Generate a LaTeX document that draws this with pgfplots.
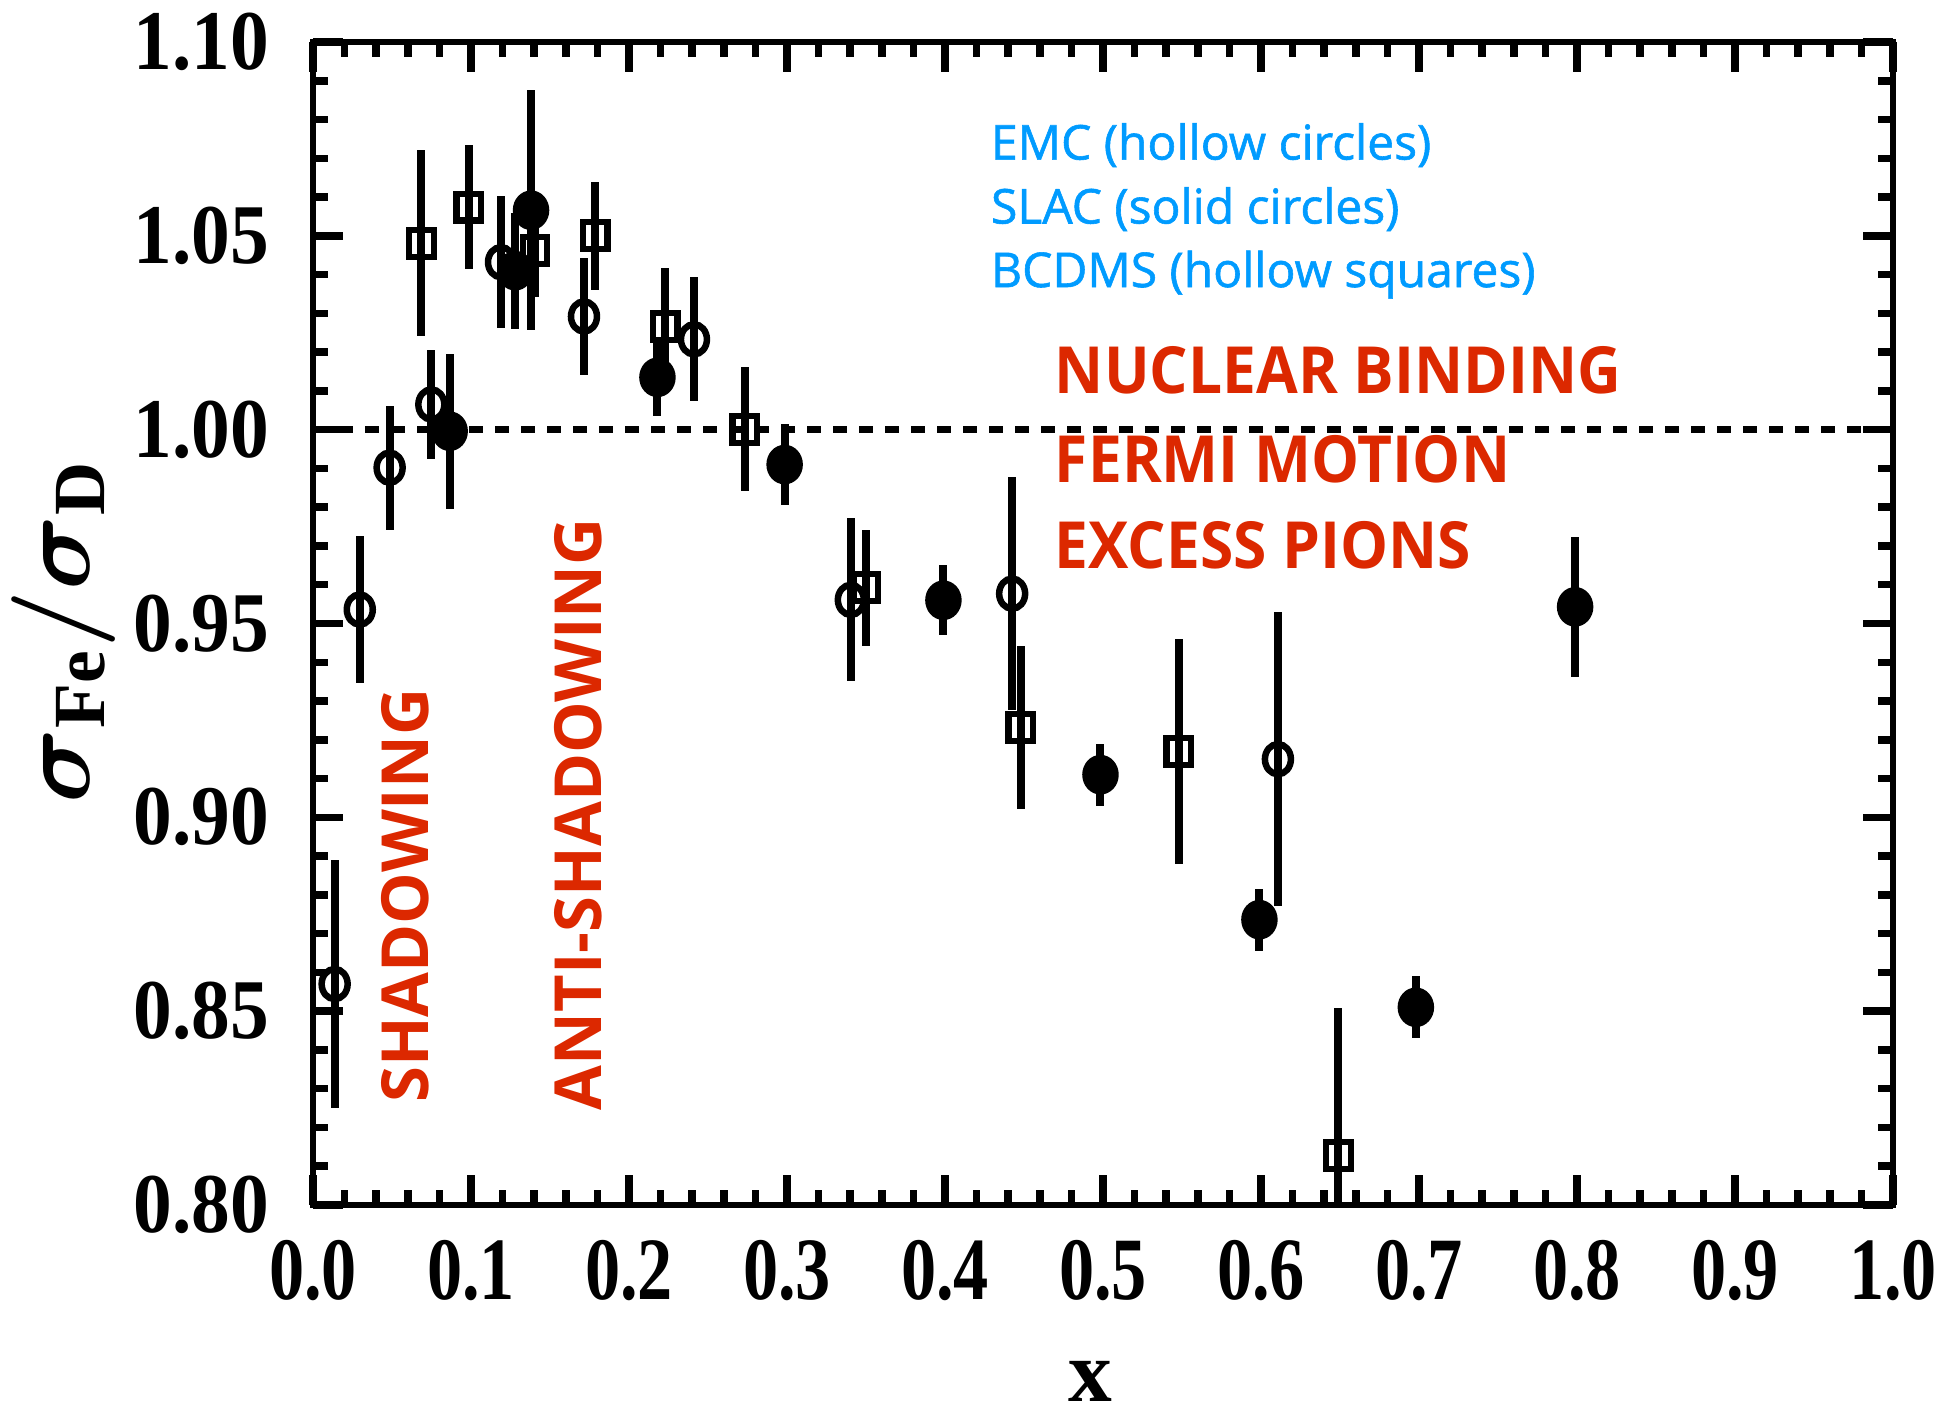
\documentclass[border=0pt]{standalone}
\usepackage{fontspec}
\usepackage{amsmath}
\usepackage{pgfplots}
\usepackage{pgfplotstable}
\pgfplotsset{compat=1.18}
\setmainfont{Liberation Serif}
\newfontfamily\annfont{Open Sans}
\newfontfamily\blufont[FakeBold=1.2]{Open Sans}
\definecolor{annblue}{RGB}{0,155,255}
\definecolor{annred}{RGB}{220,40,0}

\pgfplotstableread{
x y e
0.0137 0.857 0.032
0.0296 0.9536 0.019
0.0485 0.9902 0.016
0.0749 1.0065 0.014
0.119 1.0432 0.017
0.1715 1.0292 0.015
0.2411 1.0233 0.016
0.3404 0.9561 0.021
0.4425 0.9577 0.030
0.6107 0.915 0.038
}\emc

\pgfplotstableread{
x y e
0.0865 0.9996 0.020
0.128 1.041 0.015
0.138 1.0566 0.031
0.218 1.0135 0.010
0.2985 0.991 0.0105
0.399 0.956 0.009
0.4984 0.911 0.008
0.599 0.8736 0.008
0.698 0.851 0.008
0.7988 0.9543 0.018
}\slac

\pgfplotstableread{
x y e
0.0686 1.0481 0.024
0.0985 1.0574 0.016
0.1405 1.0463 0.012
0.1787 1.050 0.014
0.223 1.0267 0.015
0.2732 1.0001 0.016
0.350 0.9592 0.015
0.448 0.9232 0.021
0.548 0.9169 0.029
0.649 0.8127 0.038
}\bcdms

\begin{document}
\begin{tikzpicture}
\useasboundingbox (-62.6pt,-42.4pt) rectangle (324.8pt,241pt);
\begin{axis}[
  at={(0pt,0pt)}, anchor=south west,
  scale only axis, width=316pt, height=232.6pt,
  xmin=0, xmax=1, ymin=0.8, ymax=1.1,
  xtick={0,0.1,0.2,0.3,0.4,0.5,0.6,0.7,0.8,0.9,1},
  xticklabels={0.0,0.1,0.2,0.3,0.4,0.5,0.6,0.7,0.8,0.9,1.0},
  ytick={0.8,0.85,0.9,0.95,1.0,1.05,1.1},
  yticklabels={0.80,0.85,0.90,0.95,1.00,1.05,1.10},
  minor x tick num=4, minor y tick num=4,
  tick align=inside, tick pos=both, ticklabel pos=left,
  major tick length=6pt, minor tick length=3pt,
  every tick/.append style={black, line width=1.5pt},
  axis line style={line width=1.3pt},
  xticklabel style={font=\fontsize{17.8}{17.8}\selectfont\bfseries, xscale=0.79, inner sep=0pt, yshift=-6.8pt},
  yticklabel style={font=\fontsize{17}{17}\selectfont\bfseries, xscale=0.91, inner sep=0pt, xshift=-9.5pt},
  xlabel={\textbf{x}},
  xlabel style={font=\fontsize{17.5}{17.5}\selectfont, at={(axis description cs:0.492,-0.152)}, anchor=center, inner sep=0pt},
  ylabel={$\boldsymbol{\sigma}_{\textbf{Fe}}\boldsymbol{/}\boldsymbol{\sigma}_{\textbf{D}}$},
  ylabel style={font=\fontsize{21}{21}\selectfont, at={(axis description cs:-0.158,0.493)}, anchor=center},
  error bars/error bar style={line width=1.6pt},
]
\addplot[black, line width=1.4pt, dash pattern=on 2.7pt off 2.5pt] coordinates {(0,1) (1,1)};

\addplot[black, only marks, mark=o, mark size=2.6pt, line width=1.3pt, mark options={yscale=1.16},
  error bars/.cd, y dir=both, y explicit, error mark=none]
  table[x=x, y=y, y error=e] {\emc};

\addplot[black, only marks, mark=*, mark size=3.15pt, line width=1pt, mark options={yscale=1.1},
  error bars/.cd, y dir=both, y explicit, error mark=none]
  table[x=x, y=y, y error=e] {\slac};

\addplot[black, only marks, mark=square, mark size=2.45pt, line width=1.25pt, mark options={yscale=1.1},
  error bars/.cd, y dir=both, y explicit, error mark=none]
  table[x=x, y=y, y error=e] {\bcdms};

\begin{scope}[every node/.style={inner sep=0pt, anchor=west}]
\node[text=annblue, font=\blufont\fontsize{9.6}{9.6}\selectfont] at (axis cs:0.4285,1.0734) {EMC (hollow circles)};
\node[text=annblue, font=\blufont\fontsize{9.6}{9.6}\selectfont] at (axis cs:0.4285,1.0569) {SLAC (solid circles)};
\node[text=annblue, font=\blufont\fontsize{9.6}{9.6}\selectfont] at (axis cs:0.4285,1.040) {BCDMS (hollow squares)};
\node[text=annred, font=\annfont\bfseries\fontsize{13}{13}\selectfont, xscale=0.93] at (axis cs:0.469,1.0154) {NUCLEAR BINDING};
\node[text=annred, font=\annfont\bfseries\fontsize{13}{13}\selectfont, xscale=0.93] at (axis cs:0.469,0.9924) {FERMI MOTION};
\node[text=annred, font=\annfont\bfseries\fontsize{13}{13}\selectfont, xscale=0.93] at (axis cs:0.469,0.9701) {EXCESS PIONS};
\node[text=annred, font=\annfont\bfseries\fontsize{13}{13}\selectfont, rotate=90, anchor=center] at (axis cs:0.0586,0.8798) {SHADOWING};
\node[text=annred, font=\annfont\bfseries\fontsize{13}{13}\selectfont, rotate=90, anchor=center] at (axis cs:0.168,0.9008) {ANTI-SHADOWING};
\end{scope}
\end{axis}
\end{tikzpicture}
\end{document}
